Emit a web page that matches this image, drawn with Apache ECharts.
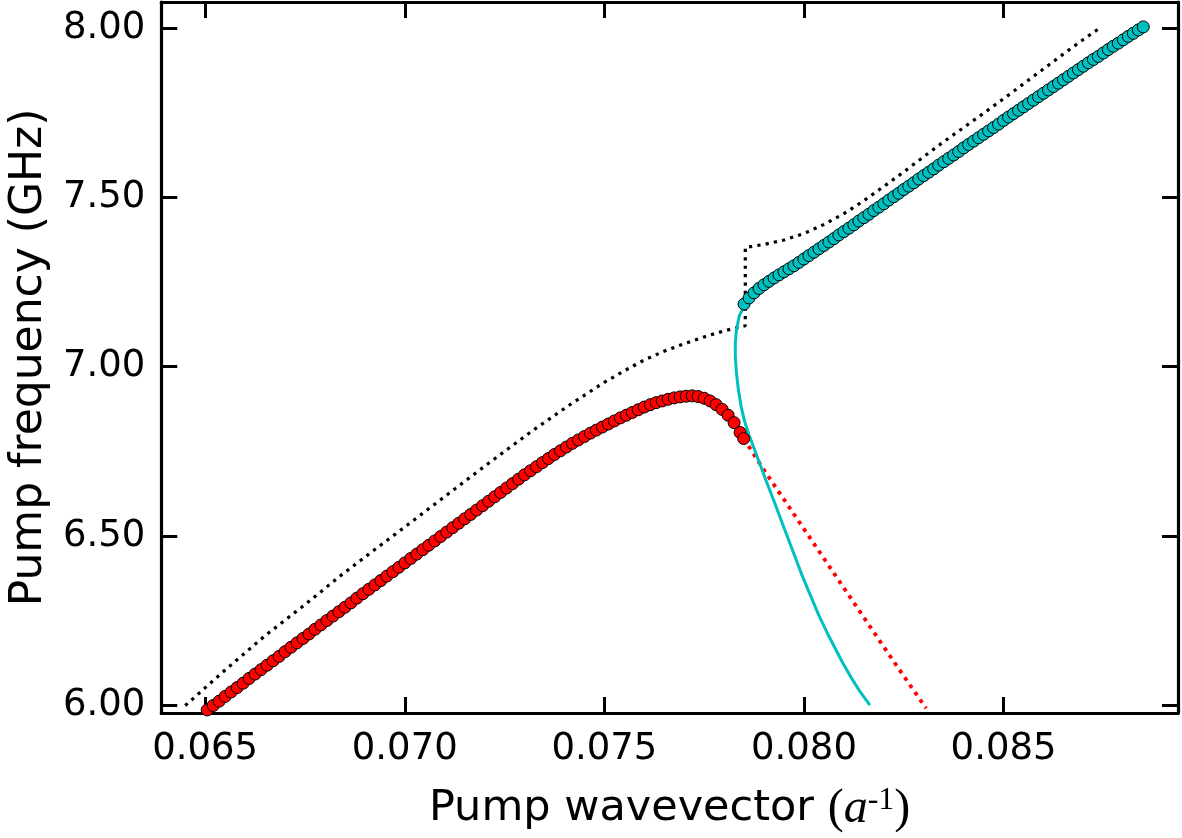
<!DOCTYPE html>
<html>
<head>
<meta charset="utf-8">
<script src="https://cdn.jsdelivr.net/npm/echarts@6/dist/echarts.min.js"></script>
<style>
html,body{margin:0;padding:0;background:#fff;}
#chart{width:1182px;height:838px;}
</style>
</head>
<body>
<div id="chart"></div>
<script>
// ---- data ----
const xTicks = [0.065, 0.070, 0.075, 0.080, 0.085];
const yTicks = [6.0, 6.5, 7.0, 7.5, 8.0];

// red markers (lower branch, stable part)
const redPoints = [
[0.06490,5.974],[0.06505,5.987],[0.06520,6.000],[0.06535,6.013],[0.06550,6.027],[0.06565,6.040],[0.06580,6.053],
[0.06595,6.066],[0.06610,6.080],[0.06625,6.093],[0.06640,6.106],[0.06655,6.119],[0.06670,6.132],
[0.06685,6.145],[0.06700,6.159],[0.06715,6.172],[0.06730,6.185],[0.06745,6.198],[0.06760,6.211],
[0.06775,6.225],[0.06790,6.238],[0.06805,6.251],[0.06820,6.264],[0.06835,6.277],[0.06850,6.290],
[0.06865,6.303],[0.06880,6.317],[0.06895,6.330],[0.06910,6.343],[0.06925,6.356],[0.06940,6.369],
[0.06955,6.382],[0.06970,6.395],[0.06985,6.408],[0.07000,6.421],[0.07015,6.434],[0.07030,6.447],
[0.07045,6.460],[0.07060,6.473],[0.07075,6.486],[0.07090,6.499],[0.07105,6.512],[0.07120,6.525],
[0.07135,6.538],[0.07150,6.551],[0.07165,6.564],[0.07180,6.577],[0.07195,6.590],[0.07210,6.603],
[0.07225,6.616],[0.07240,6.629],[0.07255,6.642],[0.07270,6.655],[0.07285,6.668],[0.07300,6.681],
[0.07315,6.693],[0.07330,6.705],[0.07345,6.717],[0.07360,6.729],[0.07375,6.741],[0.07390,6.752],
[0.07405,6.763],[0.07420,6.774],[0.07435,6.784],[0.07450,6.794],[0.07465,6.804],[0.07480,6.813],
[0.07495,6.822],[0.07510,6.831],[0.07525,6.840],[0.07540,6.849],[0.07555,6.857],[0.07570,6.865],
[0.07585,6.873],[0.07600,6.881],[0.07615,6.888],[0.07630,6.894],[0.07645,6.899],[0.07660,6.904],
[0.07675,6.908],[0.07690,6.911],[0.07705,6.913],[0.07720,6.914],[0.07735,6.912],[0.07750,6.907],
[0.07765,6.899],[0.07780,6.888],[0.07795,6.874],[0.07810,6.857],[0.07825,6.835],[0.07840,6.806],
[0.07849,6.788]
];

// cyan markers (upper branch)
const cyanPoints = [
[0.078500,7.185],[0.078625,7.203],[0.078750,7.218],[0.078875,7.231],[0.079000,7.242],[0.079125,7.252],
[0.079250,7.262],[0.079375,7.271],[0.079500,7.280],[0.079625,7.289],[0.079750,7.298],[0.079875,7.308],
[0.080000,7.318],[0.080125,7.328],[0.080250,7.338],[0.080375,7.348],[0.080500,7.358],[0.080625,7.368],
[0.080750,7.378],[0.080875,7.389],[0.081000,7.399],[0.081125,7.409],[0.081250,7.419],[0.081375,7.430],
[0.081500,7.440],[0.081625,7.450],[0.081750,7.461],[0.081875,7.471],[0.082000,7.481],[0.082125,7.492],
[0.082250,7.502],[0.082375,7.512],[0.082500,7.523],[0.082625,7.533],[0.082750,7.543],[0.082875,7.554],
[0.083000,7.564],[0.083125,7.574],[0.083250,7.584],[0.083375,7.595],[0.083500,7.605],[0.083625,7.615],
[0.083750,7.625],[0.083875,7.635],[0.084000,7.646],[0.084125,7.656],[0.084250,7.666],[0.084375,7.676],
[0.084500,7.686],[0.084625,7.696],[0.084750,7.706],[0.084875,7.716],[0.085000,7.727],[0.085125,7.737],
[0.085250,7.747],[0.085375,7.757],[0.085500,7.767],[0.085625,7.777],[0.085750,7.787],[0.085875,7.797],
[0.086000,7.807],[0.086125,7.817],[0.086250,7.827],[0.086375,7.837],[0.086500,7.847],[0.086625,7.857],
[0.086750,7.867],[0.086875,7.877],[0.087000,7.887],[0.087125,7.897],[0.087250,7.907],[0.087375,7.916],
[0.087500,7.926],[0.087625,7.936],[0.087750,7.946],[0.087875,7.955],[0.088000,7.965],[0.088125,7.975],
[0.088250,7.984],[0.088375,7.994],[0.088500,8.003]
];

// black dotted curve
const blackCurve = [
[0.06450,6.000],[0.06550,6.105],[0.06652,6.208],[0.06750,6.298],[0.06841,6.385],[0.06920,6.456],
[0.07000,6.527],[0.07126,6.640],[0.07220,6.724],[0.07315,6.807],[0.07410,6.885],[0.07500,6.954],
[0.07550,6.988],[0.07600,7.020],[0.07650,7.046],[0.07700,7.068],[0.07750,7.088],[0.07800,7.106],
[0.07853,7.121],[0.07853,7.352],[0.07900,7.361],[0.07950,7.374],[0.08000,7.393],[0.08050,7.420],
[0.08100,7.452],[0.08150,7.490],[0.08200,7.532],[0.08250,7.575],[0.08300,7.620],[0.08350,7.664],
[0.08400,7.706],[0.08450,7.748],[0.08500,7.791],[0.08550,7.835],[0.08600,7.879],[0.08650,7.923],
[0.08700,7.966],[0.08740,7.999]
];

// red dotted continuation
const redDotted = [
[0.07849,6.788],[0.07900,6.695],[0.07950,6.608],[0.08000,6.521],[0.08050,6.434],[0.08100,6.347],
[0.08150,6.260],[0.08200,6.173],[0.08250,6.087],[0.08300,6.002],[0.08306,5.992]
];

// cyan solid continuation
const cyanSolid = [
[0.07853,7.185],[0.07838,7.150],[0.07831,7.110],[0.07828,7.070],[0.07828,7.030],[0.07831,6.980],
[0.07836,6.930],[0.07843,6.880],[0.07851,6.840],[0.07862,6.800],[0.07881,6.740],[0.07903,6.670],
[0.07926,6.600],[0.07951,6.522],[0.07974,6.450],[0.07995,6.385],[0.08018,6.320],[0.08037,6.267],
[0.08058,6.215],[0.08078,6.169],[0.08098,6.124],[0.08119,6.081],[0.08141,6.040],[0.08165,6.001]
];

const X_MIN = 0.0639, X_MAX = 0.08937;
const Y_MIN = 5.978, Y_MAX = 8.0765;

const chart = echarts.init(document.getElementById('chart'), null, {renderer: 'canvas'});

const tickStyle = {show: true, inside: true, length: 16, lineStyle: {color: '#000', width: 3}};
const lineBox = {show: true, lineStyle: {color: '#000', width: 3.2}};
const FONT = 'DejaVu Sans';

const option = {
  animation: false,
  backgroundColor: '#fff',
  grid: {left: 149, right: 4, top: 2, bottom: 123, show: false},
  xAxis: [{
    type: 'value', min: X_MIN, max: X_MAX, position: 'bottom',
    axisLine: lineBox,
    axisTick: Object.assign({customValues: xTicks}, tickStyle),
    splitLine: {show: false},
    axisLabel: {customValues: xTicks, margin: 18, fontFamily: FONT, fontSize: 37, color: '#000',
      formatter: v => v.toFixed(3)},
    name: 'Pump wavevector {p|(}{a|a}{s|-1}{p|)}',
    nameLocation: 'middle', nameGap: 72,
    nameTextStyle: {fontFamily: FONT, fontSize: 43, color: '#000',
      rich: {
        p: {fontFamily: 'Liberation Serif', fontSize: 48, color: '#000'},
        a: {fontFamily: 'Liberation Serif', fontStyle: 'italic', fontSize: 48, color: '#000'},
        s: {fontFamily: 'Liberation Serif', fontSize: 32, color: '#000', verticalAlign: 'top'}
      }}
  }, {
    type: 'value', min: X_MIN, max: X_MAX, position: 'top',
    axisLine: lineBox,
    axisTick: Object.assign({customValues: xTicks}, tickStyle),
    splitLine: {show: false},
    axisLabel: {show: false}
  }],
  yAxis: [{
    type: 'value', min: Y_MIN, max: Y_MAX, position: 'left',
    axisLine: lineBox,
    axisTick: Object.assign({customValues: yTicks}, tickStyle),
    splitLine: {show: false},
    axisLabel: {customValues: yTicks, margin: 16, fontFamily: FONT, fontSize: 37, color: '#000',
      formatter: v => v.toFixed(2)},
    name: 'Pump frequency (GHz)',
    nameLocation: 'middle', nameGap: 100,
    nameTextStyle: {fontFamily: FONT, fontSize: 44, color: '#000'}
  }, {
    type: 'value', min: Y_MIN, max: Y_MAX, position: 'right',
    axisLine: lineBox,
    axisTick: Object.assign({customValues: yTicks}, tickStyle),
    splitLine: {show: false},
    axisLabel: {show: false}
  }],
  series: [
    {type: 'line', data: blackCurve, symbol: 'none', z: 2, clip: true,
      lineStyle: {color: '#000', width: 3.2, type: [3.2, 5.2], cap: 'butt'}},
    {type: 'line', data: redDotted, symbol: 'none', z: 2, clip: true,
      lineStyle: {color: '#ff0000', width: 3.8, type: [3.8, 5.2], cap: 'butt'}},
    {type: 'line', data: cyanSolid, symbol: 'none', z: 2, clip: true,
      lineStyle: {color: '#00bfbf', width: 3}},
    {type: 'scatter', data: redPoints, symbol: 'circle', symbolSize: 12, z: 3, clip: true,
      itemStyle: {color: '#ff0000', borderColor: '#000', borderWidth: 1, opacity: 1}},
    {type: 'scatter', data: cyanPoints, symbol: 'circle', symbolSize: 12, z: 3, clip: true,
      itemStyle: {color: '#00bfbf', borderColor: '#000', borderWidth: 1, opacity: 1}}
  ]
};
chart.setOption(option);
</script>
</body>
</html>
